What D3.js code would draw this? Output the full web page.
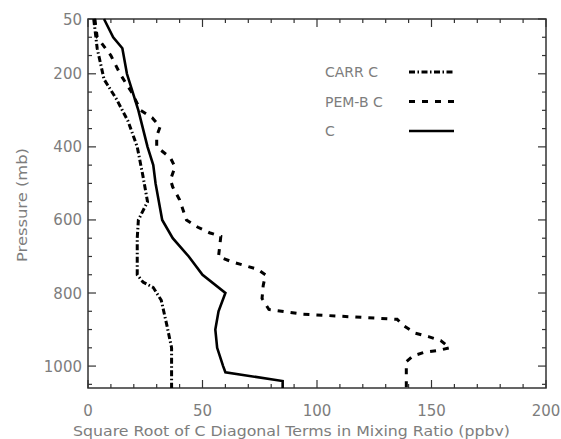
<!DOCTYPE html>
<html><head><meta charset="utf-8">
<script src="https://cdn.jsdelivr.net/npm/d3@7"></script>
<style>body{margin:0;background:#fff}svg{display:block}text{font-family:"DejaVu Sans",sans-serif}</style>
</head><body><svg id="c" width="561" height="439"></svg>
<script>
// pressure levels (mb) and values (ppbv)
const carrP = [50,130,215,270,330,400,480,550,600,650,750,770,785,820,890,950,1060];
const carrV = [2.5,4,7,12.5,17.5,21.5,24,26,22,21.5,21.5,24,28.5,32,34.5,36.5,36.5];
const pemP = [50,100,150,200,250,300,320,345,370,400,430,455,490,510,545,600,620,635,645,700,715,735,750,780,815,845,858,872,890,910,920,930,950,957,962,972,988,1060];
const pemV = [3,4,10,14,19,23,28,31.5,30,30,36,38,36,37,40,43,48,53,58,57,63,74,77.5,76.5,76,79,94,135,138,143,149,154,158,153,147,142,139,139];
const cP = [50,100,130,200,300,400,450,500,600,650,700,750,800,850,900,950,1000,1017,1041,1060];
const cV = [7,11,15,17,22,26,28.5,29.5,32.4,37,44,50,60,57,55.6,56.4,59,60,85,85];
const xTicks = [0,50,100,150,200];
const yTicks = [50,200,400,600,800,1000];
const legendNames = ["CARR C","PEM-B C","C"];

const svg = d3.select("#c");
const L=88,R=546,T=19,B=388;
const x = d3.scaleLinear().domain([0,200]).range([L,R]);
const y = d3.scaleLinear().domain([50,1060]).range([T,B]);
const axisCol="#333", txtCol="#7d7d7d";

// frame
svg.append("rect").attr("x",L).attr("y",T).attr("width",R-L).attr("height",B-T)
  .attr("fill","none").attr("stroke",axisCol).attr("stroke-width",1.5);

const minorX = d3.range(0,201,10), minorY = d3.range(50,1051,50);
const g = svg.append("g").attr("stroke",axisCol).attr("stroke-width",1.2);
minorX.forEach(v=>{
  const len = xTicks.includes(v)?8:4;
  g.append("line").attr("x1",x(v)).attr("x2",x(v)).attr("y1",B).attr("y2",B-len);
  g.append("line").attr("x1",x(v)).attr("x2",x(v)).attr("y1",T).attr("y2",T+len);
});
minorY.forEach(p=>{
  const len = yTicks.includes(p)?8:4;
  g.append("line").attr("y1",y(p)).attr("y2",y(p)).attr("x1",L).attr("x2",L+len);
  g.append("line").attr("y1",y(p)).attr("y2",y(p)).attr("x1",R).attr("x2",R-len);
});

// tick labels
svg.selectAll(".xt").data(xTicks).join("text").attr("x",d=>x(d)).attr("y",416)
  .attr("text-anchor","middle").attr("font-size",15).attr("fill",txtCol).text(d=>d);
svg.selectAll(".yt").data(yTicks).join("text").attr("x",82).attr("y",d=>y(d)+5.5)
  .attr("text-anchor","end").attr("font-size",15).attr("fill",txtCol).text(d=>d);

// titles
svg.append("text").attr("x",73).attr("y",436).attr("font-size",14).attr("fill",txtCol)
  .attr("textLength",437).attr("lengthAdjust","spacingAndGlyphs")
  .text("Square Root of C Diagonal Terms in Mixing Ratio (ppbv)");
svg.append("text").attr("transform","translate(27,205) rotate(-90)").attr("text-anchor","middle")
  .attr("font-size",14).attr("fill",txtCol).attr("textLength",114).attr("lengthAdjust","spacingAndGlyphs")
  .text("Pressure (mb)");

// lines
const line = d3.line().x(d=>x(d[1])).y(d=>y(d[0]));
const styles = [
  {dash:"6,2.5,1.5,2.5", w:3},
  {dash:"6,7", w:3},
  {dash:null, w:2.6}
];
const series = [d3.zip(carrP,carrV), d3.zip(pemP,pemV), d3.zip(cP,cV)];
series.forEach((s,i)=>{
  svg.append("path").datum(s).attr("d",line).attr("fill","none").attr("stroke","#000")
    .attr("stroke-width",styles[i].w).attr("stroke-dasharray",styles[i].dash);
});

// legend
legendNames.forEach((n,i)=>{
  const yy = 72 + i*29.5;
  svg.append("text").attr("x",325).attr("y",yy+5).attr("font-size",14).attr("fill",txtCol).text(n);
  svg.append("line").attr("x1",409).attr("x2",454).attr("y1",yy).attr("y2",yy)
    .attr("stroke","#000").attr("stroke-width",styles[i].w).attr("stroke-dasharray",styles[i].dash);
});
</script></body></html>
